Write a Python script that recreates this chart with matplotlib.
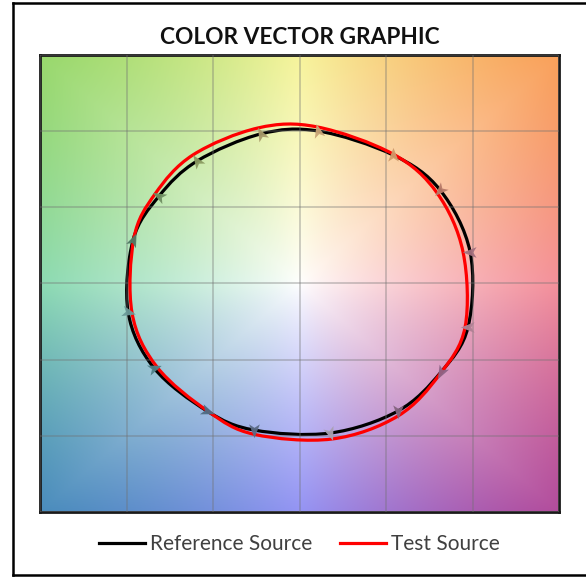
import numpy as np
import matplotlib
matplotlib.use('Agg')
import matplotlib.pyplot as plt
from matplotlib.path import Path
from matplotlib.patches import PathPatch
from matplotlib.markers import MarkerStyle
from matplotlib.transforms import Affine2D
from matplotlib.colors import to_rgb
from matplotlib.lines import Line2D

# reference source points, one per hue bin (normalised a', b')
ref_x = [0.986, 0.812, 0.540, 0.107, -0.223, -0.592, -0.812, -0.962,
         -0.991, -0.841, -0.535, -0.263, 0.176, 0.569, 0.818, 0.974]
ref_y = [0.207, 0.614, 0.844, 1.001, 0.982, 0.804, 0.574, 0.286,
         -0.187, -0.555, -0.837, -0.962, -0.982, -0.837, -0.581, -0.286]

# test source points
test_x = [0.945, 0.795, 0.540, 0.101, -0.240, -0.616, -0.835, -0.957,
          -0.968, -0.824, -0.528, -0.263, 0.188, 0.569, 0.812, 0.957]
test_y = [0.207, 0.594, 0.850, 1.028, 1.021, 0.844, 0.588, 0.299,
          -0.194, -0.548, -0.840, -0.990, -1.021, -0.870, -0.594, -0.286]

bin_colors = ['#a4707e', '#b87a68', '#d09a6a', '#c8a476', '#a89a6a', '#8a9a60',
              '#6f8f62', '#4f7a64', '#6a9a98', '#4f8088', '#4f6c84', '#5a6a84',
              '#a8a0b0', '#84647e', '#8e6486', '#b08094']

# background hue colours at the plot border, by angle
bg_angles = [0, 45, 90, 135, 180, 225, 270, 315, 360]
bg_colors = ['#f4909a', '#f9a05a', '#f7f49c', '#98d86c', '#8cdab2',
             '#4a8cbc', '#9494f4', '#b24c9c', '#f4909a']


def smooth_loop(xs, ys):
    # closed catmull-rom style curve drawn as bezier segments
    p = np.column_stack([xs, ys])
    n = len(p)
    verts = [p[0]]
    codes = [Path.MOVETO]
    for i in range(n):
        p0, p1, p2, p3 = p[i - 1], p[i], p[(i + 1) % n], p[(i + 2) % n]
        verts += [p1 + (p2 - p0) / 6, p2 - (p3 - p1) / 6, p2]
        codes += [Path.CURVE4] * 3
    return Path(verts, codes)


fig = plt.figure(figsize=(5.86, 5.77), dpi=100)
ax = fig.add_axes([0.0683, 0.1127, 0.8857, 0.792])

g = np.linspace(-1.5, 1.5, 400)
X, Y = np.meshgrid(g, g)
ang = np.degrees(np.arctan2(Y, X)) % 360
rgb_a = np.array([to_rgb(c) for c in bg_colors])
rgb = np.stack([np.interp(ang, bg_angles, rgb_a[:, k]) for k in range(3)], -1)
s = (np.maximum(np.abs(X), np.abs(Y)) / 1.5) ** 0.85
img = 1 - s[..., None] * (1 - rgb)
ax.imshow(img, extent=(-1.5, 1.5, -1.5, 1.5), origin='lower', aspect='auto',
          interpolation='bilinear', zorder=0)

ax.set_xlim(-1.5, 1.5)
ax.set_ylim(-1.5, 1.5)
ax.set_xticks(np.arange(-1.5, 1.51, 0.5))
ax.set_yticks(np.arange(-1.5, 1.51, 0.5))
ax.tick_params(length=0, labelbottom=False, labelleft=False)
ax.grid(color='#707070', alpha=0.4, lw=1.2, zorder=1)
ax.set_axisbelow(False)
for sp in ax.spines.values():
    sp.set_color('#1a1a1a')
    sp.set_linewidth(2.0)

ax.add_patch(PathPatch(smooth_loop(ref_x, ref_y), fill=False, ec='black', lw=2.3, zorder=2))
ax.add_patch(PathPatch(smooth_loop(test_x, test_y), fill=False, ec='#ff0000', lw=2.3, zorder=3))

head = Path([(1, 0), (-0.8, 0.7), (-0.35, 0), (-0.8, -0.7), (1, 0)],
            [Path.MOVETO, Path.LINETO, Path.LINETO, Path.LINETO, Path.CLOSEPOLY])
for i in range(len(ref_x)):
    dx = (test_x[i] - ref_x[i]) * 173
    dy = (test_y[i] - ref_y[i]) * 152
    a = np.degrees(np.arctan2(dy, dx))
    m = MarkerStyle(head, transform=Affine2D().rotate_deg(a))
    ax.plot(ref_x[i], ref_y[i], marker=m, ms=11, color=bin_colors[i],
            mec='none', alpha=0.95, zorder=4)

ax.set_title('COLOR VECTOR GRAPHIC', fontsize=16.3, fontweight='bold',
             family='Lato', color='#111111', pad=8)

handles = [Line2D([], [], color='black', lw=2.3), Line2D([], [], color='#ff0000', lw=2.3)]
leg = ax.legend(handles, ['Reference Source', 'Test Source'], loc='upper center',
                bbox_to_anchor=(0.5, -0.008), ncol=2, frameon=False,
                prop={'family': 'Lato', 'size': 15}, handlelength=2.2,
                handletextpad=0.25, columnspacing=1.3)
for t in leg.get_texts():
    t.set_color('#404040')

# outer frame
x0, y0, y1 = 13 / 586, 2 / 577, 1 - 3 / 577
fig.add_artist(Line2D([x0, x0], [y0, y1], transform=fig.transFigure, color='black', lw=1.8))
fig.add_artist(Line2D([x0, 1], [y1, y1], transform=fig.transFigure, color='black', lw=1.8))
fig.add_artist(Line2D([x0, 1], [y0, y0], transform=fig.transFigure, color='black', lw=1.8))

fig.savefig('out.png', dpi=100)
